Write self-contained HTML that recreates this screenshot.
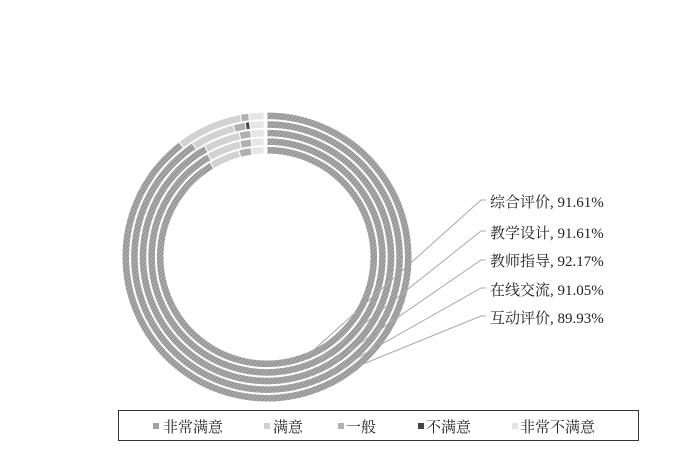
<!DOCTYPE html>
<html><head><meta charset="utf-8"><style>
body{margin:0;background:#fff;width:693px;height:452px;overflow:hidden}
svg{position:absolute;left:0;top:0}
text{font-family:"Liberation Serif","Noto Serif CJK SC",serif;font-size:15px;fill:#222}
</style></head><body>
<svg id="s" width="693" height="452" viewBox="0 0 693 452">
<defs>
<pattern id="h" width="3" height="3" patternUnits="userSpaceOnUse" patternTransform="rotate(45)">
<rect width="3" height="3" fill="#a9a9a9"/><rect width="1" height="3" fill="#8e8e8e"/></pattern>
</defs>
<g id="rings"></g>
<g stroke="#a8a8a8" stroke-width="1" fill="none" id="lines"></g>
<text x="490" y="207">综合评价, 91.61%</text>
<text x="490" y="238">教学设计, 91.61%</text>
<text x="490" y="266">教师指导, 92.17%</text>
<text x="490" y="295">在线交流, 91.05%</text>
<text x="490" y="323">互动评价, 89.93%</text>
<rect x="118.5" y="410.5" width="520" height="30" fill="none" stroke="#333" stroke-width="1"/>
<rect x="153" y="423" width="6" height="6" fill="#a0a0a0"/><text x="163" y="432">非常满意</text>
<rect x="264" y="423" width="6" height="6" fill="#d0d0d0"/><text x="273" y="432">满意</text>
<rect x="338" y="423" width="6" height="6" fill="#b0b0b0"/><text x="346" y="432">一般</text>
<rect x="418" y="423" width="6" height="6" fill="#444"/><text x="426" y="432">不满意</text>
<rect x="512" y="423" width="6" height="6" fill="#e4e4e4"/><text x="520" y="432">非常不满意</text>
</svg>
<script>
var cx=267,cy=257,NS="http://www.w3.org/2000/svg";
function pt(r,a){var t=a*Math.PI/180;return [cx+r*Math.sin(t),cy-r*Math.cos(t)];}
// a measured clockwise from top; segments given in clockwise degrees
function arc(r0,r1,a0,a1,fill){
 var p1=pt(r1,a0),p2=pt(r1,a1),p3=pt(r0,a1),p4=pt(r0,a0),lg=(a1-a0)>180?1:0;
 var d="M"+p1+"A"+r1+","+r1+" 0 "+lg+" 1 "+p2+"L"+p3+"A"+r0+","+r0+" 0 "+lg+" 0 "+p4+"Z";
 var e=document.createElementNS(NS,"path");e.setAttribute("d",d);e.setAttribute("fill",fill);
 e.setAttribute("stroke","#fff");e.setAttribute("stroke-width","1");
 document.getElementById("rings").appendChild(e);}
// rings outer->inner: [VSend, Send, Gend, NSend] as ccw-from-top angles
var R=[
 [37.4,10.6,7.3,7.3,1.2],
 [33.3,14.3,9.2,7.4,1.3],
 [29.4,12.6,7.4,7.4,1.3],
 [30,13.2,7.7,7.7,1.5],
 [31,14.8,8.3,8.3,1.6]];
var C=["url(#h)","#d2d2d2","#b0b0b0","#444","#e6e6e6"];
for(var i=0;i<5;i++){
 var ro=145-i*8.6,ri=ro-7.6,v=R[i];
 var b=[0,360-v[0],360-v[1],360-v[2],360-v[3],360-v[4]];
 for(var k=0;k<5;k++){if(b[k+1]-b[k]>0.2)arc(ri,ro,b[k],b[k+1],C[k]);}
}
var ly=[200,231,260,288,316],ang=[21.6,26,30,34.5,39];
for(var j=0;j<5;j++){
 var r=107+8.6*j,a=ang[j]*Math.PI/180;
 var ex=cx+r*Math.sin(a),ey=cy+r*Math.cos(a);
 var l=document.createElementNS(NS,"polyline");
 l.setAttribute("points",ex+","+ey+" 481,"+ly[j]+" 486,"+ly[j]);
 document.getElementById("lines").appendChild(l);}
</script>
</body></html>
